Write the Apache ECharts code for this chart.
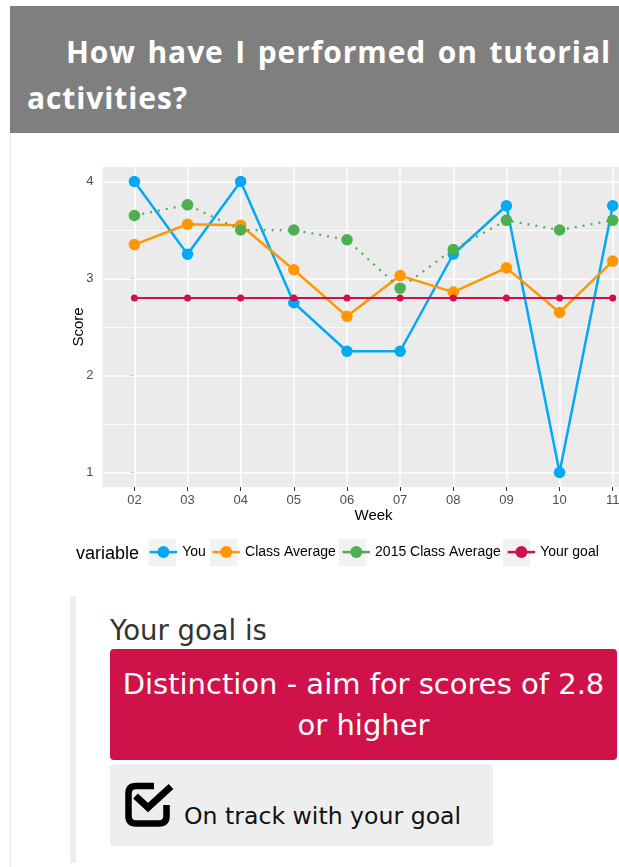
<!DOCTYPE html>
<html>
<head>
<meta charset="utf-8">
<script src="https://cdn.jsdelivr.net/npm/echarts@6/dist/echarts.min.js"></script>
<style>
  html, body { margin:0; padding:0; background:#fff; }
  body { width:619px; height:867px; overflow:hidden; position:relative; }
  #hdr { position:absolute; left:10px; top:6px; width:620px; height:127px; background:#7f7f7f; }
  #hdrText { position:absolute; left:17px; top:22.7px; width:584px; font-family:'Open Sans', sans-serif; font-weight:bold; font-size:30px; line-height:46px; letter-spacing:0.9px; color:#fff; text-align:justify; text-indent:39px; }
  #vline { position:absolute; left:10px; top:133px; width:1px; height:734px; background:#e6e6e6; }
  #chart { position:absolute; left:0; top:140px; width:660px; height:455px; }
  #bar { position:absolute; left:70px; top:596px; width:6px; height:267px; background:#eeeeee; }
  #goalLbl { position:absolute; left:110px; top:614px; font-family:'DejaVu Sans', sans-serif; font-size:27.5px; line-height:32px; color:#333; white-space:nowrap; }
  #goalBox { position:absolute; left:110px; top:649px; width:507px; height:111px; box-sizing:border-box; padding:15px 10px 0 10px; background:#d0124a; border-radius:4px; color:#fff; font-family:'DejaVu Sans', sans-serif; font-size:29px; line-height:41px; text-align:center; }
  #trackBox { position:absolute; left:110px; top:764px; width:383px; height:82px; background:#eeeeee; border-radius:4px; }
  #trackIcon { position:absolute; left:15px; top:16px; }
  #trackText { position:absolute; left:74px; top:38px; font-family:'DejaVu Sans', sans-serif; font-size:23.6px; line-height:28px; color:#111; white-space:nowrap; }
</style>
</head>
<body>
<div id="hdr"><div id="hdrText">How have I performed on tutorial activities?</div></div>
<div id="vline"></div>
<div id="chart"></div>
<div id="bar"></div>
<div id="goalLbl">Your goal is</div>
<div id="goalBox">Distinction - aim for scores of 2.8 or higher</div>
<div id="trackBox">
  <svg id="trackIcon" width="50" height="48" viewBox="0 0 50 48">
    <path d="M29 6 H11 Q3.5 6 3.5 13.5 V36 Q3.5 43.5 11 43.5 H34 Q41.5 43.5 41.5 36 V25" fill="none" stroke="#000" stroke-width="6.5"/>
    <path d="M10.5 16 L23 27.5 L46 6.5" fill="none" stroke="#000" stroke-width="7"/>
  </svg>
  <div id="trackText">On track with your goal</div>
</div>
<script>
// ---- data ----
const weeks = ['02','03','04','05','06','07','08','09','10','11'];
const youScores = [4, 3.25, 4, 2.75, 2.25, 2.25, 3.25, 3.75, 1, 3.75];
const classAverage = [3.35, 3.56, 3.55, 3.09, 2.61, 3.03, 2.86, 3.11, 2.65, 3.18];
const classAverage2015 = [3.65, 3.76, 3.5, 3.5, 3.4, 2.9, 3.3, 3.6, 3.5, 3.6];
const yourGoal = [2.8, 2.8, 2.8, 2.8, 2.8, 2.8, 2.8, 2.8, 2.8, 2.8];
const seriesNames = ['You', 'Class Average', '2015 Class Average', 'Your goal'];
const yTickValues = [1, 2, 3, 4];
const yMinorValues = [1.5, 2.5, 3.5];

// ---- styles ----
const colors = ['#03a9f4', '#ff9800', '#4caf50', '#d0104c'];
const FONT = 'Liberation Sans, Arial, sans-serif';
const idx = weeks.map((w, i) => i);
const toPts = arr => arr.map((v, i) => [i, v]);

const legendLeft = 148.4, legendIconW = 27.5, legendIconH = 15, legendGap = 5.5, legendFont = 14;
const legendCY = 412.6;
const cv = document.createElement('canvas').getContext('2d');
cv.font = legendFont + 'px ' + FONT;
const boxes = [];
let xcur = legendLeft;
seriesNames.forEach(n => {
  boxes.push({
    type: 'rect', silent: true, z: 0,
    shape: { x: xcur + legendIconW / 2 - 13.75, y: legendCY - 13.75, width: 27.5, height: 27.5 },
    style: { fill: '#f2f2f2' }
  });
  xcur += legendIconW + 5 + cv.measureText(n).width + legendGap;
});

const gridLines = []
  .concat(yTickValues.map(v => ({ yAxis: v, lineStyle: { width: 1.5 } })))
  .concat(yMinorValues.map(v => ({ yAxis: v, lineStyle: { width: 0.8 } })))
  .concat(idx.map(v => ({ xAxis: v, lineStyle: { width: 1.5 } })));

const chart = echarts.init(document.getElementById('chart'), null, { renderer: 'canvas' });
const mkSeries = (name, arr, i, extra) => Object.assign({
  name: name, type: 'line', data: toPts(arr),
  symbol: 'circle', symbolSize: 11.5, showSymbol: true,
  lineStyle: { color: colors[i], width: 2.5 },
  itemStyle: { color: colors[i] },
  emphasis: { disabled: true }, z: 10 + i
}, extra || {});

chart.setOption({
  animation: false,
  textStyle: { fontFamily: FONT },
  grid: { left: 102.5, top: 27, width: 542.1, height: 320, show: true, backgroundColor: '#ebebeb', borderWidth: 0, containLabel: false },
  xAxis: {
    type: 'value', min: -0.6, max: 9.6,
    name: 'Week', nameLocation: 'middle', nameGap: 29, nameMoveOverlap: false,
    nameTextStyle: { fontSize: 15, color: '#000', verticalAlign: 'middle', fontFamily: FONT },
    axisLine: { show: false },
    axisTick: { show: true, length: 4, customValues: idx, lineStyle: { color: '#333', width: 1 } },
    axisLabel: { customValues: idx, margin: 7, fontSize: 13, color: '#4d4d4d', fontFamily: FONT,
      formatter: v => (Number.isInteger(v) && weeks[v] !== undefined) ? weeks[v] : '' },
    splitLine: { show: false }
  },
  yAxis: {
    type: 'value', min: 0.85, max: 4.15, position: 'left',
    name: 'Score', nameLocation: 'middle', nameGap: 24, nameRotate: 90, nameMoveOverlap: false,
    nameTextStyle: { fontSize: 15, color: '#000', verticalAlign: 'middle', fontFamily: FONT },
    axisLine: { show: false },
    axisTick: { show: true, length: 4, customValues: yTickValues, lineStyle: { color: '#333', width: 1 } },
    axisLabel: { customValues: yTickValues, margin: 9, fontSize: 13, color: '#4d4d4d', fontFamily: FONT,
      formatter: v => Number.isInteger(v) ? String(v) : '' },
    splitLine: { show: false }
  },
  legend: {
    left: legendLeft, top: legendCY - legendIconH / 2, orient: 'horizontal', padding: 0,
    itemWidth: legendIconW, itemHeight: legendIconH, itemGap: legendGap,
    textStyle: { fontSize: legendFont, color: '#000', fontFamily: FONT },
    selectedMode: false,
    data: seriesNames.map(n => ({ name: n, lineStyle: { type: 'solid', width: 2.5 } }))
  },
  graphic: boxes.concat([{
    type: 'text', left: 76, top: legendCY - 8, silent: true,
    style: { text: 'variable', fontSize: 18, fill: '#000', fontFamily: FONT, verticalAlign: 'top' }
  }]),
  series: [
    {
      name: '_panelGrid', type: 'line', data: toPts(youScores), z: 1, silent: true,
      symbol: 'none', lineStyle: { opacity: 0 }, itemStyle: { opacity: 0 }, emphasis: { disabled: true },
      markLine: { z: 1, silent: true, symbol: 'none', label: { show: false }, emphasis: { disabled: true },
        lineStyle: { color: '#ffffff', type: 'solid', width: 1.5 }, data: gridLines }
    },
    mkSeries(seriesNames[0], youScores, 0),
    mkSeries(seriesNames[1], classAverage, 1),
    mkSeries(seriesNames[2], classAverage2015, 2, { lineStyle: { color: colors[2], width: 2.2, type: [2, 6] } }),
    mkSeries(seriesNames[3], yourGoal, 3, { symbolSize: 7, lineStyle: { color: colors[3], width: 2 } })
  ]
});
</script>
</body>
</html>
